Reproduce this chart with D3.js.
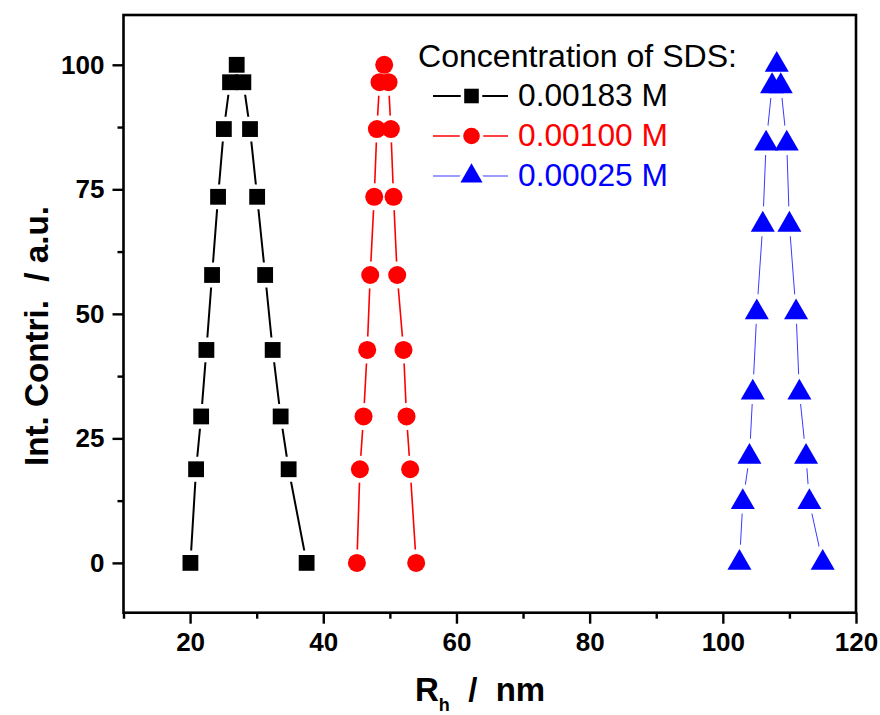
<!DOCTYPE html>
<html><head><meta charset="utf-8">
<script src="https://cdn.jsdelivr.net/npm/d3@7"></script>
<style>
body{margin:0;background:#fff;}
text{font-family:"Liberation Sans",Arial,sans-serif;}
</style></head>
<body><svg id="c" width="880" height="715"></svg>
<script>
// ---- data ----
const seriesNames = ["0.00183 M", "0.00100 M", "0.00025 M"];
const legendTitle = "Concentration of SDS:";
const blackX = [20.05, 20.9, 21.66, 22.45, 23.3, 24.2, 25.07, 26.0, 27.0, 28.0, 29.0, 30.07, 31.27, 32.4, 33.6, 34.8, 37.5];
const blackY = [0, 18.8, 29.4, 42.75, 57.8, 73.5, 87.1, 96.5, 100, 96.5, 87.1, 73.5, 57.8, 42.75, 29.4, 18.8, 0];
const redX = [45.05, 45.5, 46.05, 46.6, 47.05, 47.65, 48.05, 48.45, 49.15, 49.8, 50.15, 50.55, 51.1, 52.05, 52.5, 53.05, 53.95];
const redY = [0, 18.8, 29.4, 42.75, 57.8, 73.5, 87.1, 96.5, 100, 96.5, 87.1, 73.5, 57.8, 42.75, 29.4, 18.8, 0];
const blueX = [102.5, 103.0, 104.0, 104.5, 105.1, 106.0, 106.5, 107.4, 108.1, 108.7, 109.6, 110.0, 111.0, 111.5, 112.5, 113.0, 115.0];
const blueY = [0, 12.2, 21.3, 34.2, 50.3, 67.9, 84.2, 95.7, 100, 95.7, 84.2, 67.9, 50.3, 34.2, 21.3, 12.2, 0];
const xTicks = [20, 40, 60, 80, 100, 120];
const xMinor = [10, 30, 50, 70, 90, 110];
const yTicks = [0, 25, 50, 75, 100];
const yMinor = [12.5, 37.5, 62.5, 87.5];

// ---- layout ----
const W = 880, H = 715;
const m = {l: 123.5, r: 24, t: 15, b: 102.3};
const svg = d3.select("#c");
const x = d3.scaleLinear().domain([10, 120]).range([m.l, W - m.r]);
const y = d3.scaleLinear().domain([-10, 110]).range([H - m.b, m.t]);

const series = [
  {name: seriesNames[0], xs: blackX, ys: blackY, color: "#000000", lineColor: "#000000", lw: 2, sym: d3.symbolSquare, size: 250},
  {name: seriesNames[1], xs: redX, ys: redY, color: "#ff0000", lineColor: "#ff0000", lw: 1.6, sym: d3.symbolCircle, size: 255},
  {name: seriesNames[2], xs: blueX, ys: blueY, color: "#0000ff", lineColor: "#3a3aff", lw: 1, sym: d3.symbolTriangle, size: 250}
];

// frame
svg.append("rect").attr("x", x(10)).attr("y", y(110)).attr("width", x(120) - x(10)).attr("height", y(-10) - y(110))
  .attr("fill", "none").attr("stroke", "#000").attr("stroke-width", 2.6);

// x axis
const xAxis = d3.axisBottom(x).tickValues(xTicks).tickSize(11).tickPadding(9).tickFormat(d3.format("d"));
const gx = svg.append("g").attr("transform", `translate(0,${y(-10)})`).call(xAxis);
gx.select(".domain").remove();
gx.selectAll(".tick line").attr("stroke-width", 2.4);
gx.selectAll(".tick text").attr("font-size", 26).attr("font-weight", "bold").attr("fill", "#000");
const xMin = d3.axisBottom(x).tickValues(xMinor).tickSize(6).tickFormat("");
const gxm = svg.append("g").attr("transform", `translate(0,${y(-10)})`).call(xMin);
gxm.select(".domain").remove();
gxm.selectAll(".tick line").attr("stroke-width", 2.4);

// y axis
const yAxis = d3.axisLeft(y).tickValues(yTicks).tickSize(11).tickPadding(8).tickFormat(d3.format("d"));
const gy = svg.append("g").attr("transform", `translate(${x(10)},0)`).call(yAxis);
gy.select(".domain").remove();
gy.selectAll(".tick line").attr("stroke-width", 2.4);
gy.selectAll(".tick text").attr("font-size", 26).attr("font-weight", "bold").attr("fill", "#000");
const yMin = d3.axisLeft(y).tickValues(yMinor).tickSize(6).tickFormat("");
const gym = svg.append("g").attr("transform", `translate(${x(10)},0)`).call(yMin);
gym.select(".domain").remove();
gym.selectAll(".tick line").attr("stroke-width", 2.4);

// axis titles
const xt = svg.append("text").attr("x", 415).attr("y", 701).attr("font-size", 33).attr("font-weight", "bold").attr("fill", "#000");
xt.append("tspan").text("R");
xt.append("tspan").attr("font-size", 18).attr("dy", 10).text("h");
xt.append("tspan").attr("dy", -10).text("\u00a0\u00a0/\u00a0\u00a0nm");

svg.append("text").attr("transform", `translate(48,336) rotate(-90)`).attr("text-anchor", "middle")
  .attr("font-size", 33).attr("font-weight", "bold").attr("fill", "#000")
  .attr("textLength", 260).attr("lengthAdjust", "spacingAndGlyphs")
  .text("Int. Contri.\u00a0\u00a0/\u00a0a.u.");

// series
const line = d3.line().x(d => x(d[0])).y(d => y(d[1]));
series.forEach(s => {
  const pts = s.xs.map((v, i) => [v, s.ys[i]]);
  const g = svg.append("g");
  g.append("path").attr("d", line(pts)).attr("fill", "none").attr("stroke", s.lineColor).attr("stroke-width", s.lw);
  const sym = d3.symbol().type(s.sym).size(s.size);
  g.selectAll(".halo").data(pts).join("path").attr("class", "halo")
    .attr("transform", d => `translate(${x(d[0])},${y(d[1])})`).attr("d", sym)
    .attr("fill", "#fff").attr("stroke", "#fff").attr("stroke-width", 9).attr("stroke-linejoin", "round");
  g.selectAll(".mk").data(pts).join("path").attr("class", "mk")
    .attr("transform", d => `translate(${x(d[0])},${y(d[1])})`).attr("d", sym)
    .attr("fill", s.color);
});

// legend
svg.append("text").attr("x", 418).attr("y", 66.5).attr("font-size", 31).attr("fill", "#000")
  .attr("textLength", 319).attr("lengthAdjust", "spacingAndGlyphs").text(legendTitle);
series.forEach((s, i) => {
  const ly = 96 + i * 40;
  const g = svg.append("g");
  g.append("line").attr("x1", 433).attr("x2", 508).attr("y1", ly).attr("y2", ly).attr("stroke", s.lineColor).attr("stroke-width", s.lw);
  const sym = d3.symbol().type(s.sym).size(s.size * 0.85);
  g.append("path").attr("transform", `translate(471.5,${ly})`).attr("d", sym).attr("fill", "#fff").attr("stroke", "#fff").attr("stroke-width", 7);
  g.append("path").attr("transform", `translate(471.5,${ly})`).attr("d", sym).attr("fill", s.color);
  g.append("text").attr("x", 518).attr("y", ly + 10).attr("font-size", 31).attr("fill", s.color)
    .attr("textLength", 150).attr("lengthAdjust", "spacingAndGlyphs").text(s.name);
});
</script></body></html>
